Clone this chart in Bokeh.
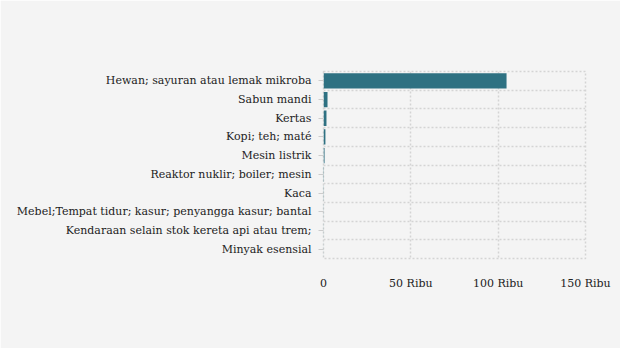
from bokeh.plotting import figure
from bokeh.models import Range1d, FixedTicker, ColumnDataSource
from bokeh.embed import file_html
from bokeh.resources import INLINE

categories = [
    "Hewan; sayuran atau lemak mikroba",
    "Sabun mandi",
    "Kertas",
    "Kopi; teh; maté",
    "Mesin listrik",
    "Reaktor nuklir; boiler; mesin",
    "Kaca",
    "Mebel;Tempat tidur; kasur; penyangga kasur; bantal",
    "Kendaraan selain stok kereta api atau trem;",
    "Minyak esensial",
]
values = [104800, 2300, 1700, 1100, 600, 250, 180, 120, 90, 60]
x_ticks = [0, 50000, 100000, 150000]
x_tick_labels = ["0", "50 Ribu", "100 Ribu", "150 Ribu"]

pos = list(range(len(categories)))
src = ColumnDataSource(dict(y=pos, v=values))

p = figure(width=620, height=348, output_backend="svg", toolbar_location=None,
           x_range=Range1d(0, 150000), y_range=Range1d(len(categories) - 0.5, -0.5))
p.min_border_left = 323
p.min_border_right = 35
p.min_border_top = 71
p.min_border_bottom = 90
p.background_fill_color = "#f4f4f4"
p.border_fill_color = "#f4f4f4"
p.outline_line_color = "#d4d4d4"
p.outline_line_dash = "2 2"
p.outline_line_width = 1.5

p.hbar(y="y", right="v", left=0, height=0.82, source=src, color="#2e7182", line_color=None)

font = "DejaVu Serif"
p.yaxis.ticker = FixedTicker(ticks=pos)
p.yaxis.major_label_overrides = {i: c for i, c in enumerate(categories)}
p.yaxis.axis_line_color = None
p.yaxis.major_tick_line_color = "#cccccc"
p.yaxis.major_tick_out = 5
p.yaxis.major_tick_in = 0
p.yaxis.minor_tick_line_color = None
p.yaxis.major_label_standoff = 7
p.yaxis.major_label_text_font = font
p.yaxis.major_label_text_font_size = "11px"
p.yaxis.major_label_text_color = "#222222"

p.xaxis.ticker = FixedTicker(ticks=x_ticks)
p.xaxis.major_label_overrides = {t: l for t, l in zip(x_ticks, x_tick_labels)}
p.xaxis.axis_line_color = None
p.xaxis.major_tick_line_color = None
p.xaxis.minor_tick_line_color = None
p.xaxis.major_label_standoff = 12
p.xaxis.major_label_text_font = font
p.xaxis.major_label_text_font_size = "11px"
p.xaxis.major_label_text_color = "#222222"

p.xgrid.ticker = FixedTicker(ticks=x_ticks)
p.xgrid.grid_line_color = "#d4d4d4"
p.xgrid.grid_line_dash = "2 2"
p.xgrid.grid_line_width = 1.5
p.ygrid.ticker = FixedTicker(ticks=[i - 0.5 for i in range(len(categories) + 1)])
p.ygrid.grid_line_color = "#d4d4d4"
p.ygrid.grid_line_dash = "2 2"
p.ygrid.grid_line_width = 1.5

open("out.html", "w").write(file_html(p, INLINE))
